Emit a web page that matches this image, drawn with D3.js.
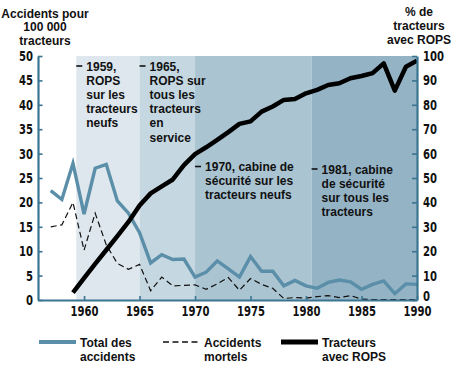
<!DOCTYPE html>
<html>
<head>
<meta charset="utf-8">
<script src="https://cdn.jsdelivr.net/npm/d3@7"></script>
<style>
  body { margin: 0; background: #fff; }
  svg { display: block; }
</style>
</head>
<body>
<div id="chart"></div>
<script>
// series
const years = d3.range(1957, 1991);
const totalAccidents = [22.4, 20.6, 28.0, 17.6, 27.0, 27.8, 20.3, 17.8, 13.8, 7.6,
  9.3, 8.3, 8.4, 4.7, 5.7, 8.0, 6.4, 4.7, 8.9, 5.9,
  5.9, 2.9, 4.0, 2.9, 2.4, 3.6, 4.1, 3.7, 2.2, 3.2,
  3.9, 1.3, 3.3, 3.2];
const fatalAccidents = [15.0, 15.4, 20.0, 10.2, 17.8, 11.3, 7.5, 6.3, 7.3, 1.9,
  4.7, 2.9, 3.0, 3.1, 2.2, 3.3, 4.6, 2.0, 4.4, 3.2,
  2.4, 0.3, 0.5, 0.4, 0.7, 0.9, 0.5, 0.9, 0.2, 0.1,
  0.1, 0.1, 0.1, 0.1];
const ropsYears = d3.range(1959, 1991);
const ropsShare = [3.0, 9.0, 14.8, 20.5, 26.2, 32.0, 38.7, 43.7, 46.6, 49.4,
  55.3, 59.8, 62.6, 65.6, 68.8, 72.2, 73.2, 77.2, 79.3, 82.0,
  82.4, 84.7, 86.1, 88.1, 88.8, 90.9, 91.8, 93.0, 97.0, 85.8,
  95.6, 98.1];

// shaded periods
const periodStarts = [1959.3, 1965, 1970, 1980.5];
const periodEnds = [1965, 1970, 1980.5, 1990];
const periodColors = ['#dde7ed', '#c5d8e1', '#aac4d1', '#94b4c6'];

const notes = [
  { year: 1959.3, lines: ['1959,', 'ROPS', 'sur les', 'tracteurs', 'neufs'], y: 70.5 },
  { year: 1965, lines: ['1965,', 'ROPS sur', 'tous les', 'tracteurs', 'en', 'service'], y: 70.5 },
  { year: 1970, lines: ['1970, cabine de', 'sécurité sur les', 'tracteurs neufs'], y: 171 },
  { year: 1980.5, lines: ['1981, cabine', 'de sécurité', 'sur tous les', 'tracteurs'], y: 173.5 }
];

const width = 456, height = 369;
const margin = { top: 56, right: 39, bottom: 69, left: 38 };
const axisColor = '#3a7592';
const totalColor = '#5b8ea8';
const boldFont = '"Liberation Sans", Arial, sans-serif';
const tickFont = '"Liberation Sans Narrow", "DejaVu Sans Condensed", sans-serif';
const squeeze = 0.8;

const svg = d3.select('#chart').append('svg')
  .attr('width', width)
  .attr('height', height);

const x = d3.scaleLinear()
  .domain([1955.85, 1990])
  .range([margin.left, width - margin.right]);
const yLeft = d3.scaleLinear()
  .domain([0, 50])
  .range([height - margin.bottom, margin.top]);
const yRight = d3.scaleLinear()
  .domain([0, 100])
  .range([height - margin.bottom, margin.top]);

// bands
svg.append('g').selectAll('rect')
  .data(periodStarts)
  .enter().append('rect')
  .attr('x', d => x(d))
  .attr('y', margin.top)
  .attr('width', (d, i) => x(periodEnds[i]) - x(d))
  .attr('height', yLeft(0) - margin.top)
  .attr('fill', (d, i) => periodColors[i]);

// annotations
const noteG = svg.append('g');
notes.forEach(n => {
  const x0 = x(n.year);
  noteG.append('line')
    .attr('x1', x0).attr('x2', x0 + 6)
    .attr('y1', n.y - 4.5).attr('y2', n.y - 4.5)
    .attr('stroke', '#111').attr('stroke-width', 1.6);
  noteG.append('text')
    .attr('x', x0 + 10)
    .attr('y', n.y)
    .attr('font-family', boldFont)
    .attr('font-weight', 'bold')
    .attr('font-size', '12px')
    .attr('fill', '#111')
    .selectAll('tspan')
    .data(n.lines)
    .enter().append('tspan')
    .attr('x', x0 + 10)
    .attr('dy', (d, i) => i === 0 ? 0 : 14.2)
    .text(d => d);
});

// lines
const fatalLine = d3.line()
  .x((d, i) => x(years[i]))
  .y(d => yLeft(d));
const ropsLine = d3.line()
  .x((d, i) => x(ropsYears[i]))
  .y(d => yRight(d));

svg.append('path')
  .datum(fatalAccidents)
  .attr('fill', 'none')
  .attr('stroke', '#111')
  .attr('stroke-width', 1.2)
  .attr('stroke-dasharray', '6,3.5')
  .attr('d', fatalLine);

svg.append('path')
  .datum(totalAccidents)
  .attr('fill', 'none')
  .attr('stroke', totalColor)
  .attr('stroke-width', 3.4)
  .attr('stroke-linejoin', 'miter')
  .attr('d', fatalLine);

svg.append('path')
  .datum(ropsShare)
  .attr('fill', 'none')
  .attr('stroke', '#000')
  .attr('stroke-width', 4.5)
  .attr('stroke-linejoin', 'round')
  .attr('d', ropsLine);

// axes
function styleAxis(g, gap) {
  g.select('.domain').attr('stroke', axisColor).attr('stroke-width', 2.2);
  g.selectAll('.tick line').attr('stroke', axisColor).attr('stroke-width', 1.6);
  g.selectAll('.tick text')
    .attr('fill', '#111')
    .attr('font-family', tickFont)
    .attr('font-weight', 'bold')
    .attr('font-size', '14px')
    .attr('transform', `scale(${squeeze},1)`);
  if (gap !== null) g.selectAll('.tick text').attr('x', gap / squeeze);
}

svg.append('g')
  .attr('transform', `translate(${margin.left},0)`)
  .call(d3.axisLeft(yLeft).ticks(10).tickSize(-4.5).tickSizeOuter(0).tickPadding(5))
  .call(g => styleAxis(g, -5));

svg.append('g')
  .attr('transform', `translate(${width - margin.right},0)`)
  .call(d3.axisRight(yRight).ticks(10).tickSize(-5).tickSizeOuter(0).tickPadding(6))
  .call(g => styleAxis(g, 6))
  .call(g => g.selectAll('.tick text').filter(d => d === 0).attr('dy', '0em'));

svg.append('g')
  .attr('transform', `translate(0,${yLeft(0)})`)
  .call(d3.axisBottom(x).tickValues(d3.range(1960, 1991, 5)).tickFormat(d3.format('d'))
    .tickSize(-4).tickSizeOuter(0).tickPadding(6))
  .call(g => styleAxis(g, null));

// axis titles
function titleBlock(cx, y0, lines) {
  svg.append('text')
    .attr('x', cx).attr('y', y0)
    .attr('text-anchor', 'middle')
    .attr('font-family', boldFont)
    .attr('font-weight', 'bold')
    .attr('font-size', '12px')
    .attr('fill', '#111')
    .selectAll('tspan')
    .data(lines)
    .enter().append('tspan')
    .attr('x', cx)
    .attr('dy', (d, i) => i === 0 ? 0 : 13.8)
    .text(d => d);
}
titleBlock(45, 17.5, ['Accidents pour', '100 000', 'tracteurs']);
titleBlock(419, 16, ['% de', 'tracteurs', 'avec ROPS']);

// legend
const legendItems = [
  { x: 39, lines: ['Total des', 'accidents'], color: totalColor, w: 4, dash: null },
  { x: 163, lines: ['Accidents', 'mortels'], color: '#111', w: 1.3, dash: '6,3.5' },
  { x: 281, lines: ['Tracteurs', 'avec ROPS'], color: '#000', w: 5, dash: null }
];
const legend = svg.append('g');
legendItems.forEach(it => {
  legend.append('line')
    .attr('x1', it.x).attr('x2', it.x + 37)
    .attr('y1', 342).attr('y2', 342)
    .attr('stroke', it.color)
    .attr('stroke-width', it.w)
    .attr('stroke-dasharray', it.dash);
  legend.append('text')
    .attr('x', it.x + 41).attr('y', 346.5)
    .attr('font-family', boldFont)
    .attr('font-weight', 'bold')
    .attr('font-size', '12px')
    .attr('fill', '#111')
    .selectAll('tspan')
    .data(it.lines)
    .enter().append('tspan')
    .attr('x', it.x + 41)
    .attr('dy', (d, i) => i === 0 ? 0 : 14)
    .text(d => d);
});
</script>
</body>
</html>
